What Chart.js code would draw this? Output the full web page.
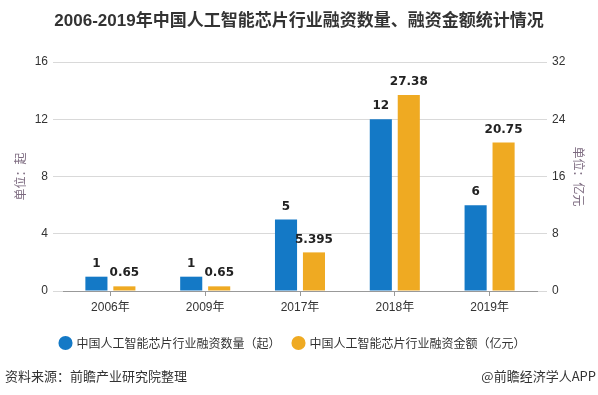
<!DOCTYPE html>
<html><head><meta charset="utf-8">
<script src="https://cdn.jsdelivr.net/npm/chart.js@4/dist/chart.umd.min.js"></script>
<style>html,body{margin:0;padding:0;background:#fff}#wrap{width:598px;height:395px;position:relative}</style>
</head><body><div id="wrap"><canvas id="c" width="598" height="395"></canvas></div>
<script>
const categories = ['2006年','2009年','2017年','2018年','2019年'];
const countValues = [1, 1, 5, 12, 6];
const amountValues = [0.65, 0.65, 5.395, 27.38, 20.75];
const countLabels = ['1','1','5','12','6'];
const amountLabels = ['0.65','0.65','5.395','27.38','20.75'];
const leftTicks = [0,4,8,12,16];
const rightTicks = [0,8,16,24,32];
const seriesNames = ['中国人工智能芯片行业融资数量（起）','中国人工智能芯片行业融资金额（亿元）'];
const titleText = '2006-2019年中国人工智能芯片行业融资数量、融资金额统计情况';
const sourceText = '资料来源：前瞻产业研究院整理';
const brandText = '@前瞻经济学人APP';

const CJK = '"Liberation Sans", "Noto Sans CJK SC", sans-serif';
const BLUE = '#1479C6', ORANGE = '#EFAA22';

const extras = {
  id: 'extras',
  afterDatasetsDraw(chart) {
    const ctx = chart.ctx;
    ctx.save();
    ctx.font = 'bold 12px "DejaVu Sans", sans-serif';
    ctx.fillStyle = '#222';
    ctx.textAlign = 'center';
    ctx.textBaseline = 'bottom';
    const lbls = [countLabels, amountLabels];
    chart.data.datasets.forEach((ds, i) => {
      chart.getDatasetMeta(i).data.forEach((el, j) => {
        ctx.fillText(lbls[i][j], el.x, el.y - 7);
      });
    });
    ctx.restore();
  },
  afterDraw(chart) {
    const ctx = chart.ctx;
    ctx.save();
    ctx.fillStyle = '#333';
    ctx.textBaseline = 'middle';
    ctx.font = 'bold 17px ' + CJK;
    ctx.textAlign = 'center';
    ctx.fillText(titleText, 299, 21);
    ctx.font = '13px "Noto Sans CJK SC", sans-serif';
    ctx.textAlign = 'left';
    ctx.fillText(sourceText, 5, 376);
    ctx.textAlign = 'right';
    ctx.fillText(brandText, 596, 376);
    ctx.restore();
  }
};

new Chart(document.getElementById('c'), {
  type: 'bar',
  data: {
    labels: categories,
    datasets: [
      { label: seriesNames[0], data: countValues, backgroundColor: BLUE, yAxisID: 'y',
        borderWidth: 0, categoryPercentage: 0.59, barPercentage: 0.79 },
      { label: seriesNames[1], data: amountValues, backgroundColor: ORANGE, yAxisID: 'y1',
        borderWidth: 0, categoryPercentage: 0.59, barPercentage: 0.79 }
    ]
  },
  options: {
    responsive: false,
    animation: false,
    devicePixelRatio: 1,
    layout: { padding: { top: 62, bottom: 36, left: 0, right: 12 } },
    plugins: {
      legend: {
        position: 'bottom',
        labels: {
          usePointStyle: true, pointStyle: 'circle', boxWidth: 10, boxHeight: 10,
          padding: 13, color: '#333',
          font: { size: 12, family: '"Noto Sans CJK SC", sans-serif' }
        }
      },
      tooltip: { enabled: false }
    },
    scales: {
      x: {
        offset: true,
        grid: { display: true, drawOnChartArea: false, offset: false, tickLength: 5, color: '#999' },
        border: { display: true, color: '#999' },
        ticks: { color: '#333', padding: 4, font: { size: 12, family: CJK } },
        afterFit(s) { s.height = 33; }
      },
      y: {
        position: 'left', min: 0, max: 16,
        afterBuildTicks(s) { s.ticks = leftTicks.map(v => ({ value: v })); },
        grid: { color: '#d9d9d9', tickLength: 10 },
        border: { display: false },
        ticks: { color: '#333', padding: 5, font: { size: 12, family: '"Liberation Sans", sans-serif' } },
        title: { display: true, text: '单位：起', color: '#7d6b80', padding: { top: 13, bottom: 0 },
          font: { size: 12, family: '"Noto Sans CJK SC", sans-serif' } },
        afterFit(s) { s.width = 63; }
      },
      y1: {
        position: 'right', min: 0, max: 32,
        afterBuildTicks(s) { s.ticks = rightTicks.map(v => ({ value: v })); },
        grid: { color: '#d9d9d9', tickLength: 10, drawOnChartArea: false },
        border: { display: false },
        ticks: { color: '#333', padding: 5, font: { size: 12, family: '"Liberation Sans", sans-serif' } },
        title: { display: true, text: '单位：亿元', color: '#7d6b80', padding: { top: 0, bottom: 0 },
          font: { size: 12, family: '"Noto Sans CJK SC", sans-serif' } },
        afterFit(s) { s.width = 49; }
      }
    }
  },
  plugins: [extras]
});
</script></body></html>
